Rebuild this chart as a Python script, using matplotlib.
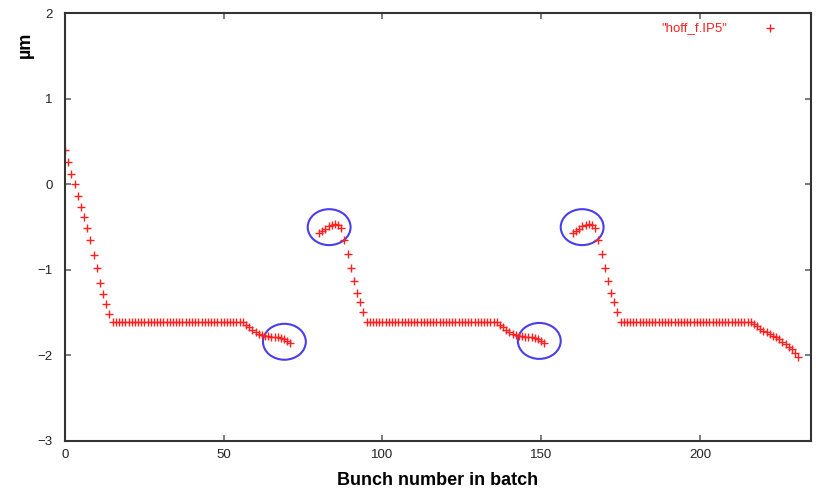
import matplotlib
matplotlib.use('Agg')
import matplotlib.pyplot as plt
from matplotlib.patches import Ellipse

plt.rcParams['font.family'] = ['Liberation Sans', 'DejaVu Sans']

# bunch numbers of the three batches (72 bunches each, gap of 8)
batch1_x = list(range(0, 72))
batch2_x = list(range(80, 152))
batch3_x = list(range(160, 232))

# offsets (um)
head1 = [0.40, 0.26, 0.12, 0.01, -0.13, -0.26, -0.38, -0.51, -0.65, -0.82,
         -0.98, -1.15, -1.28, -1.40, -1.51]
head2 = [-0.57, -0.55, -0.52, -0.49, -0.47, -0.46, -0.48, -0.51,
         -0.65, -0.81, -0.98, -1.13, -1.27, -1.38, -1.49]
head3 = [-0.57, -0.55, -0.52, -0.49, -0.47, -0.46, -0.48, -0.51,
         -0.65, -0.81, -0.98, -1.13, -1.27, -1.38, -1.49]
flat_level = -1.61
flat_len = 42
tail1 = [-1.64, -1.67, -1.70, -1.73, -1.75, -1.76, -1.77, -1.77, -1.78,
         -1.79, -1.79, -1.80, -1.81, -1.83, -1.85]
tail2 = [-1.64, -1.67, -1.70, -1.73, -1.75, -1.76, -1.77, -1.77, -1.78,
         -1.79, -1.79, -1.80, -1.81, -1.83, -1.85]
tail3 = [-1.63, -1.66, -1.69, -1.71, -1.73, -1.75, -1.77, -1.79, -1.81,
         -1.84, -1.87, -1.90, -1.93, -1.97, -2.02]

y1 = head1 + [flat_level] * flat_len + tail1
y2 = head2 + [flat_level] * flat_len + tail2
y3 = head3 + [flat_level] * flat_len + tail3

# highlighted regions (center x, center y)
circles = [(69.1, -1.84), (83.2, -0.50), (149.4, -1.83), (162.9, -0.50)]

fig = plt.figure(figsize=(8.16, 4.93), dpi=100)
ax = fig.add_axes([0.0797, 0.1055, 0.9142, 0.8675])

xs = batch1_x + batch2_x + batch3_x
ys = y1 + y2 + y3
ax.plot(xs, ys, linestyle='none', marker='+', color='#ff2020',
        markersize=5.5, markeredgewidth=1.0)

for cx, cy in circles:
    ax.add_patch(Ellipse((cx, cy), 13.5, 0.42, fill=False,
                         edgecolor='#4a3ee8', linewidth=1.5))

ax.set_xlim(0, 235)
ax.set_ylim(-3, 2)
ax.set_xticks([0, 50, 100, 150, 200])
ax.set_yticks([-3, -2, -1, 0, 1, 2])
ax.set_yticklabels(['\u22123', '\u22122', '\u22121', '0', '1', '2'])
ax.tick_params(direction='in', length=4, width=1.2, color='#666666',
               top=True, right=True, labelsize=9.5, labelcolor='#222222')
ax.tick_params(axis='x', pad=6)
ax.tick_params(axis='y', pad=9)
for s in ax.spines.values():
    s.set_color('#333333')
    s.set_linewidth(1.5)

ax.set_xlabel('Bunch number in batch', fontsize=13, fontweight='bold',
              labelpad=8)
fig.text(0.031, 0.91, '\u00b5m', rotation=90, fontsize=13,
         fontweight='bold', ha='center', va='center')

# key
ax.text(0.888, 0.965, '"hoff_f.IP5"', transform=ax.transAxes, color='#ff2020',
        fontsize=9.5, ha='right', va='center')
ax.plot([0.945], [0.965], transform=ax.transAxes, linestyle='none',
        marker='+', color='#ff2020', markersize=5.5, markeredgewidth=1.0)

plt.savefig('out.png', dpi=100)
